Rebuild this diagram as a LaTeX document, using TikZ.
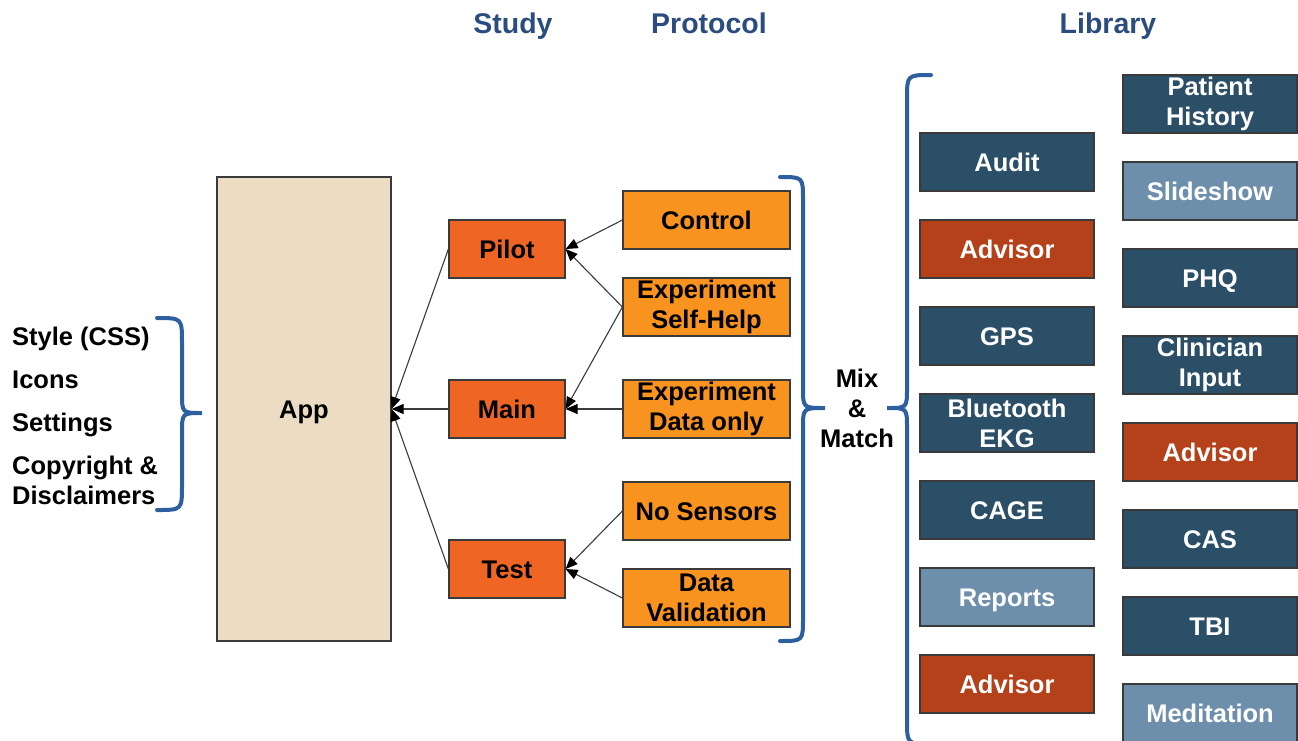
\documentclass[tikz,border=0pt]{standalone}
\usepackage{fontspec}
\setmainfont{Liberation Sans}
\usetikzlibrary{arrows.meta}
\definecolor{appfill}{HTML}{ECDCC3}
\definecolor{studyfill}{HTML}{EE6524}
\definecolor{protofill}{HTML}{F7931E}
\definecolor{darkblue}{HTML}{2C4F68}
\definecolor{lightblue}{HTML}{6D8FAB}
\definecolor{rust}{HTML}{B5411A}
\definecolor{bordercol}{HTML}{3A3A3A}
\definecolor{headcol}{HTML}{2B4C7E}
\definecolor{bracecol}{HTML}{2E5F9E}
\newcommand\lblfont{\fontsize{25.5}{30}\selectfont\bfseries}
\tikzset{
  x=1pt, y=-1pt,
  basebox/.style={draw=bordercol, line width=1.2pt, align=center, inner sep=0pt, font=\lblfont},
  one/.style={text height=18.3pt, text depth=0pt},
  appbox/.style={basebox, one, fill=appfill, minimum width=174pt, minimum height=464pt},
  studybox/.style={basebox, one, fill=studyfill, minimum width=116pt, minimum height=58pt},
  protobox/.style={basebox, fill=protofill, minimum width=167pt, minimum height=58pt},
  libdark/.style={basebox, fill=darkblue, text=white, minimum width=174pt, minimum height=58pt},
  liblight/.style={basebox, fill=lightblue, text=white, minimum width=174pt, minimum height=58pt},
  librust/.style={basebox, fill=rust, text=white, minimum width=174pt, minimum height=58pt},
  header/.style={font=\fontsize{28.5}{32}\selectfont\bfseries, text=headcol, text height=20.4pt, text depth=0pt, inner sep=0pt},
  plain/.style={font=\lblfont, align=center, inner sep=0pt},
  conn/.style={draw=bordercol, line width=1.1pt, -{Triangle[length=12pt,width=10pt,color=black]}},
  bracestyle/.style={draw=bracecol, line width=4pt, line cap=round}
}
\begin{document}
\begin{tikzpicture}
\useasboundingbox (0,0) rectangle (1298,740);
% headers
\node[header] (hstudy) at (513,23) {Study};
\node[header] (hproto) at (709,23) {Protocol};
\node[header] (hlib) at (1108,23) {Library};
% left texts
\node[plain, one, anchor=west] (t1) at (12,336) {Style (CSS)};
\node[plain, one, anchor=west] (t2) at (12,379) {Icons};
\node[plain, one, anchor=west] (t3) at (12,422) {Settings};
\node[plain, one, anchor=west] (t4) at (12,465) {Copyright \&};
\node[plain, one, anchor=west] (t5) at (12,495) {Disclaimers};
% app
\node[appbox] (app) at (304,409) {App};
% study
\node[studybox] (pilot) at (507,249) {Pilot};
\node[studybox] (main) at (507,409) {Main};
\node[studybox] (test) at (507,569) {Test};
% protocol
\node[protobox, one] (control) at (706.5,220) {Control};
\node[protobox] (selfhelp) at (706.5,307) {Experiment\\Self-Help};
\node[protobox] (dataonly) at (706.5,409) {Experiment\\Data only};
\node[protobox, one] (nosensors) at (706.5,511) {No Sensors};
\node[protobox] (datavalid) at (706.5,598) {Data\\Validation};
% mix & match
\node[plain] (mix) at (857,408) {Mix\\\&\\Match};
% library col 1
\node[libdark, one] (audit) at (1007,162) {Audit};
\node[librust, one] (adv1) at (1007,249) {Advisor};
\node[libdark, one] (gps) at (1007,336) {GPS};
\node[libdark] (ekg) at (1007,423) {Bluetooth\\EKG};
\node[libdark, one] (cage) at (1007,510) {CAGE};
\node[liblight, one] (reports) at (1007,597) {Reports};
\node[librust, one] (adv2) at (1007,684) {Advisor};
% library col 2
\node[libdark] (history) at (1210,104) {Patient\\History};
\node[liblight, one] (slides) at (1210,191) {Slideshow};
\node[libdark, one] (phq) at (1210,278) {PHQ};
\node[libdark] (clin) at (1210,365) {Clinician\\Input};
\node[librust, one] (adv3) at (1210,452) {Advisor};
\node[libdark, one] (cas) at (1210,539) {CAS};
\node[libdark, one] (tbi) at (1210,626) {TBI};
\node[liblight, one] (medit) at (1210,713) {Meditation};
% connectors
\draw[conn] (pilot.west) -- (app.east);
\draw[conn] (main.west) -- (app.east);
\draw[conn] (test.west) -- (app.east);
\draw[conn] (control.west) -- (pilot.east);
\draw[conn] (selfhelp.west) -- (pilot.east);
\draw[conn] (selfhelp.west) -- (main.east);
\draw[conn] (dataonly.west) -- (main.east);
\draw[conn] (nosensors.west) -- (test.east);
\draw[conn] (datavalid.west) -- (test.east);
% braces
\draw[bracestyle] (157,318) .. controls (182,318) .. (182,343) -- (182,393)
  .. controls (182,413) .. (202,413) .. controls (182,413) .. (182,433)
  -- (182,485) .. controls (182,510) .. (157,510);
\draw[bracestyle] (780,177) .. controls (803,177) .. (803,200) -- (803,388)
  .. controls (803,408) .. (825,408) .. controls (803,408) .. (803,428)
  -- (803,618) .. controls (803,641) .. (780,641);
\draw[bracestyle] (931,75) .. controls (907,75) .. (907,99) -- (907,388)
  .. controls (907,408) .. (887,408) .. controls (907,408) .. (907,428)
  -- (907,720) .. controls (907,744) .. (931,744);
\end{tikzpicture}
\end{document}
